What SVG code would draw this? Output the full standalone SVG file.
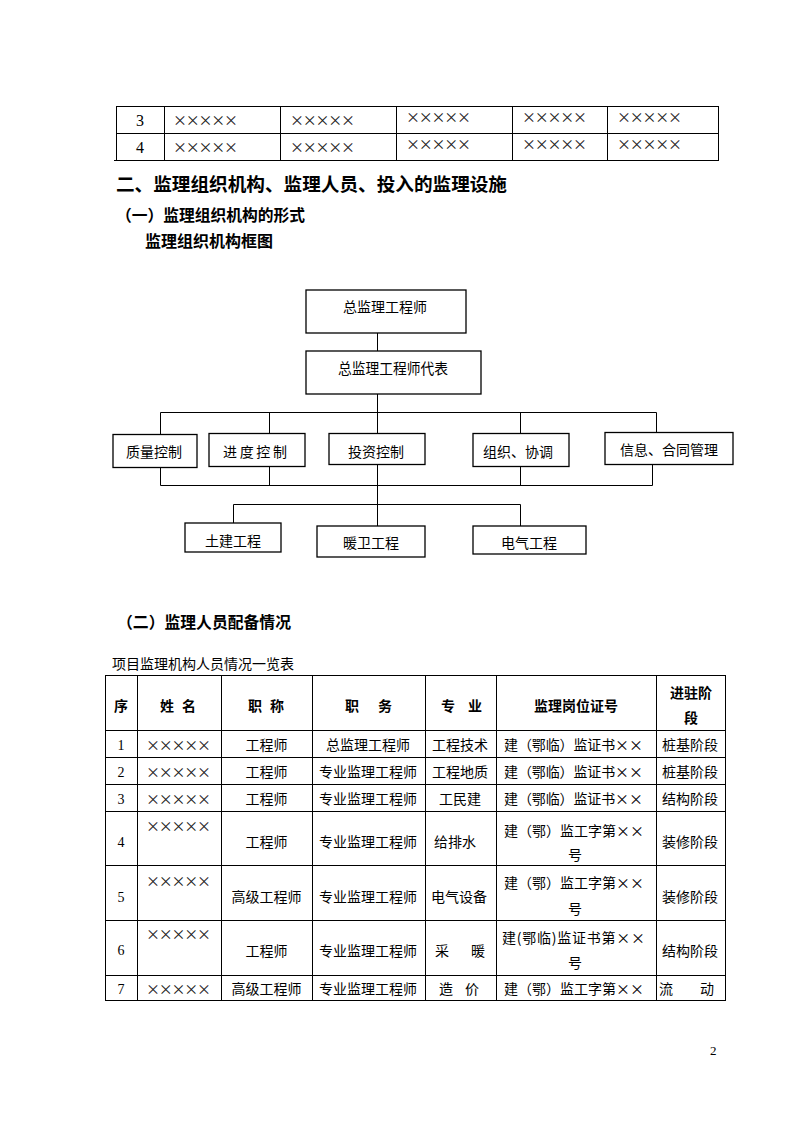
<svg xmlns="http://www.w3.org/2000/svg" width="794" height="1123" viewBox="0 0 794 1123">
<style>
text{font-family:"Noto Sans CJK SC","Noto Sans",sans-serif;fill:#000;dominant-baseline:central}
.t{font-size:14px}
.x{font-size:14px;fill:#222}
.c{text-anchor:middle}
.h1{font-size:18.6px;font-weight:bold}
.h2{font-size:16px;font-weight:bold}
.hb{font-size:14px;font-weight:bold}
.num{font-family:"Liberation Serif",serif;font-size:14px}
.ln{stroke:#000;stroke-width:1;fill:none}
.bx{stroke:#000;stroke-width:1.3;fill:#fff}
.tb{stroke:#000;stroke-width:1;fill:none}
</style>
<rect width="794" height="1123" fill="#fff"/>

<g id="top-table">
<rect class="tb" x="116.5" y="106.5" width="602" height="54"/>
<line class="tb" x1="114" y1="160.5" x2="118" y2="160.5"/>
<line class="tb" x1="116.5" y1="133.5" x2="718.5" y2="133.5"/>
<line class="tb" x1="164.5" y1="106.5" x2="164.5" y2="160.5"/>
<line class="tb" x1="280.5" y1="106.5" x2="280.5" y2="160.5"/>
<line class="tb" x1="396.5" y1="106.5" x2="396.5" y2="160.5"/>
<line class="tb" x1="512.5" y1="106.5" x2="512.5" y2="160.5"/>
<line class="tb" x1="607.5" y1="106.5" x2="607.5" y2="160.5"/>
<text class="num c" x="140" y="120" style="font-size:16px">3</text>
<text class="num c" x="140" y="147" style="font-size:16px">4</text>
<text class="x" x="173" y="119" textLength="65" lengthAdjust="spacing">×××××</text>
<text class="x" x="290" y="119" textLength="65" lengthAdjust="spacing">×××××</text>
<text class="x" x="406" y="116" textLength="65" lengthAdjust="spacing">×××××</text>
<text class="x" x="522" y="116" textLength="65" lengthAdjust="spacing">×××××</text>
<text class="x" x="617" y="116" textLength="65" lengthAdjust="spacing">×××××</text>
<text class="x" x="173" y="146" textLength="65" lengthAdjust="spacing">×××××</text>
<text class="x" x="290" y="146" textLength="65" lengthAdjust="spacing">×××××</text>
<text class="x" x="406" y="143" textLength="65" lengthAdjust="spacing">×××××</text>
<text class="x" x="522" y="143" textLength="65" lengthAdjust="spacing">×××××</text>
<text class="x" x="617" y="143" textLength="65" lengthAdjust="spacing">×××××</text>
</g>

<g id="headings">
<text class="h1" x="116" y="182" textLength="391" lengthAdjust="spacingAndGlyphs">二、监理组织机构、监理人员、投入的监理设施</text>
<text class="h2" x="116" y="214" textLength="189" lengthAdjust="spacingAndGlyphs">（一）监理组织机构的形式</text>
<text class="h2" x="145" y="240" textLength="128" lengthAdjust="spacingAndGlyphs">监理组织机构框图</text>
</g>

<g id="connectors">
<line class="ln" x1="377.5" y1="333" x2="377.5" y2="351"/>
<line class="ln" x1="377.5" y1="394" x2="377.5" y2="433.5"/>
<line class="ln" x1="160.5" y1="412.5" x2="656.5" y2="412.5"/>
<line class="ln" x1="160.5" y1="412.5" x2="160.5" y2="434.5"/>
<line class="ln" x1="269.5" y1="412.5" x2="269.5" y2="433.5"/>
<line class="ln" x1="520.5" y1="412.5" x2="520.5" y2="433.5"/>
<line class="ln" x1="656.5" y1="412.5" x2="656.5" y2="432.5"/>
<line class="ln" x1="160.5" y1="467.5" x2="160.5" y2="485.5"/>
<line class="ln" x1="269.5" y1="466.5" x2="269.5" y2="485.5"/>
<line class="ln" x1="520.5" y1="466.5" x2="520.5" y2="485.5"/>
<line class="ln" x1="652.5" y1="464.5" x2="652.5" y2="485.5"/>
<line class="ln" x1="160.5" y1="485.5" x2="652.5" y2="485.5"/>
<line class="ln" x1="377.5" y1="464.5" x2="377.5" y2="526"/>
<line class="ln" x1="233.5" y1="504.5" x2="520.5" y2="504.5"/>
<line class="ln" x1="233.5" y1="504.5" x2="233.5" y2="523"/>
<line class="ln" x1="520.5" y1="504.5" x2="520.5" y2="526"/>
</g>

<g id="node-chief">
<rect class="bx" x="306" y="290" width="160" height="43"/>
<text class="t c" x="385" y="306">总监理工程师</text>
</g>
<g id="node-deputy">
<rect class="bx" x="306" y="351" width="175" height="43"/>
<text class="t c" x="393" y="367" style="font-size:15px" textLength="110" lengthAdjust="spacingAndGlyphs">总监理工程师代表</text>
</g>
<g id="node-quality">
<rect class="bx" x="113" y="434.5" width="84" height="33"/>
<text class="t c" x="154" y="451">质量控制</text>
</g>
<g id="node-progress">
<rect class="bx" x="209" y="433.5" width="96" height="33"/>
<text class="t c" x="255" y="451" textLength="64" lengthAdjust="spacing">进度控制</text>
</g>
<g id="node-investment">
<rect class="bx" x="329" y="433.5" width="96" height="31"/>
<text class="t c" x="376" y="451">投资控制</text>
</g>
<g id="node-coordination">
<rect class="bx" x="473" y="433.5" width="96" height="33"/>
<text class="t c" x="518" y="451">组织、协调</text>
</g>
<g id="node-info">
<rect class="bx" x="605" y="432.5" width="128" height="32"/>
<text class="t c" x="669" y="449">信息、合同管理</text>
</g>
<g id="node-civil">
<rect class="bx" x="185" y="523" width="96" height="29"/>
<text class="t c" x="233" y="540">土建工程</text>
</g>
<g id="node-hvac">
<rect class="bx" x="317" y="526" width="108" height="31"/>
<text class="t c" x="371" y="542">暖卫工程</text>
</g>
<g id="node-electrical">
<rect class="bx" x="473" y="526" width="113" height="28"/>
<text class="t c" x="529" y="542">电气工程</text>
</g>

<g id="section-2">
<text class="h2" x="117" y="621" textLength="174" lengthAdjust="spacingAndGlyphs">（二）监理人员配备情况</text>
<text class="t" x="112" y="663" textLength="182" lengthAdjust="spacingAndGlyphs">项目监理机构人员情况一览表</text>
</g>

<g id="staff-table">
<rect class="tb" x="105.5" y="675.5" width="620" height="325"/>
<line class="tb" x1="137.5" y1="675.5" x2="137.5" y2="1000.5"/>
<line class="tb" x1="221.5" y1="675.5" x2="221.5" y2="1000.5"/>
<line class="tb" x1="312.5" y1="675.5" x2="312.5" y2="1000.5"/>
<line class="tb" x1="425.5" y1="675.5" x2="425.5" y2="1000.5"/>
<line class="tb" x1="496.5" y1="675.5" x2="496.5" y2="1000.5"/>
<line class="tb" x1="656.5" y1="675.5" x2="656.5" y2="1000.5"/>
<line class="tb" x1="105.5" y1="730.5" x2="725.5" y2="730.5"/>
<line class="tb" x1="105.5" y1="757.5" x2="725.5" y2="757.5"/>
<line class="tb" x1="105.5" y1="784.5" x2="725.5" y2="784.5"/>
<line class="tb" x1="105.5" y1="811.5" x2="725.5" y2="811.5"/>
<line class="tb" x1="105.5" y1="865.5" x2="725.5" y2="865.5"/>
<line class="tb" x1="105.5" y1="920.5" x2="725.5" y2="920.5"/>
<line class="tb" x1="105.5" y1="975.5" x2="725.5" y2="975.5"/>

<text class="hb c" x="121" y="705">序</text>
<text class="hb" x="160" y="705" textLength="36" lengthAdjust="spacing">姓名</text>
<text class="hb" x="248" y="705" textLength="36" lengthAdjust="spacing">职称</text>
<text class="hb" x="345" y="705" textLength="47" lengthAdjust="spacing">职务</text>
<text class="hb" x="441" y="705" textLength="41" lengthAdjust="spacing">专业</text>
<text class="hb c" x="576" y="705">监理岗位证号</text>
<text class="hb c" x="691" y="692">进驻阶</text>
<text class="hb c" x="691" y="717">段</text>

<text class="num c" x="121" y="745">1</text>
<text class="x" x="146" y="744" textLength="65" lengthAdjust="spacing">×××××</text>
<text class="t c" x="266.5" y="744">工程师</text>
<text class="t c" x="368" y="744">总监理工程师</text>
<text class="t c" x="460" y="744">工程技术</text>
<text class="t" x="504" y="744" textLength="139" lengthAdjust="spacing">建（鄂临）监证书××</text>
<text class="t c" x="690" y="744">桩基阶段</text>

<text class="num c" x="121" y="772">2</text>
<text class="x" x="146" y="771" textLength="65" lengthAdjust="spacing">×××××</text>
<text class="t c" x="266.5" y="771">工程师</text>
<text class="t c" x="368" y="771">专业监理工程师</text>
<text class="t c" x="460" y="771">工程地质</text>
<text class="t" x="504" y="771" textLength="139" lengthAdjust="spacing">建（鄂临）监证书××</text>
<text class="t c" x="690" y="771">桩基阶段</text>

<text class="num c" x="121" y="799">3</text>
<text class="x" x="146" y="798" textLength="65" lengthAdjust="spacing">×××××</text>
<text class="t c" x="266.5" y="798">工程师</text>
<text class="t c" x="368" y="798">专业监理工程师</text>
<text class="t c" x="460" y="798">工民建</text>
<text class="t" x="504" y="798" textLength="139" lengthAdjust="spacing">建（鄂临）监证书××</text>
<text class="t c" x="690" y="798">结构阶段</text>

<text class="num c" x="121" y="842">4</text>
<text class="x" x="146" y="825" textLength="65" lengthAdjust="spacing">×××××</text>
<text class="t c" x="266.5" y="841">工程师</text>
<text class="t c" x="368" y="841">专业监理工程师</text>
<text class="t c" x="455" y="841">给排水</text>
<text class="t" x="504" y="830" textLength="140" lengthAdjust="spacing">建（鄂）监工字第××</text>
<text class="t c" x="575" y="854">号</text>
<text class="t c" x="690" y="841">装修阶段</text>

<text class="num c" x="121" y="897">5</text>
<text class="x" x="146" y="880" textLength="65" lengthAdjust="spacing">×××××</text>
<text class="t c" x="266.5" y="896">高级工程师</text>
<text class="t c" x="368" y="896">专业监理工程师</text>
<text class="t c" x="459" y="896">电气设备</text>
<text class="t" x="504" y="882" textLength="140" lengthAdjust="spacing">建（鄂）监工字第××</text>
<text class="t c" x="575" y="908">号</text>
<text class="t c" x="690" y="896">装修阶段</text>

<text class="num c" x="121" y="950">6</text>
<text class="x" x="146" y="933" textLength="65" lengthAdjust="spacing">×××××</text>
<text class="t c" x="266.5" y="950">工程师</text>
<text class="t c" x="368" y="950">专业监理工程师</text>
<text class="t" x="435" y="950" textLength="50" lengthAdjust="spacing">采暖</text>
<text class="t" x="502" y="937" textLength="143" lengthAdjust="spacing">建(鄂临)监证书第××</text>
<text class="t c" x="575" y="962">号</text>
<text class="t c" x="690" y="950">结构阶段</text>

<text class="num c" x="121" y="989">7</text>
<text class="x" x="146" y="988" textLength="65" lengthAdjust="spacing">×××××</text>
<text class="t c" x="266.5" y="988">高级工程师</text>
<text class="t c" x="368" y="988">专业监理工程师</text>
<text class="t" x="439" y="988" textLength="40" lengthAdjust="spacing">造价</text>
<text class="t" x="504" y="988" textLength="140" lengthAdjust="spacing">建（鄂）监工字第××</text>
<text class="t" x="659" y="988" textLength="55" lengthAdjust="spacing">流动</text>
</g>

<text class="num" x="710" y="1050" style="font-size:13px">2</text>
</svg>
